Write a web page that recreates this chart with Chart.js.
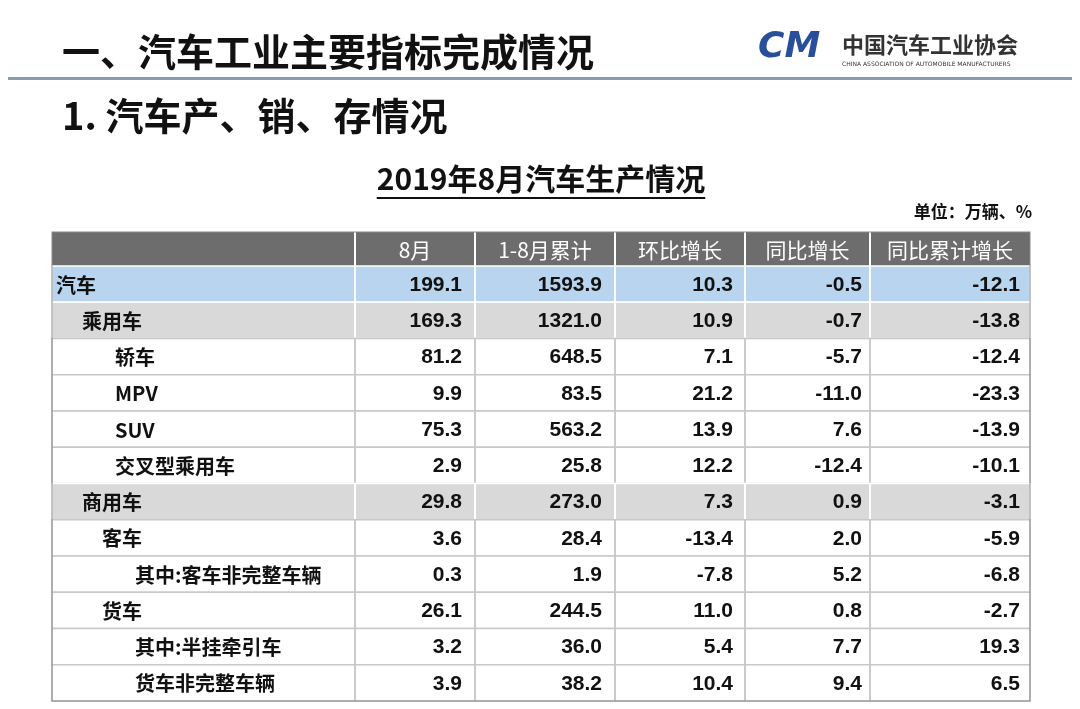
<!DOCTYPE html>
<html><head><meta charset="utf-8">
<script src="https://cdn.jsdelivr.net/npm/chart.js@4"></script>
<style>html,body{margin:0;padding:0;background:#fff;}canvas{display:block;}</style>
</head><body>
<canvas id="c" width="1080" height="709"></canvas>
<script>
const headers = ["", "8月", "1-8月累计", "环比增长", "同比增长", "同比累计增长"];
const categories = ["汽车","乘用车","轿车","MPV","SUV","交叉型乘用车","商用车","客车","其中:客车非完整车辆","货车","其中:半挂牵引车","货车非完整车辆"];
const indents = [0,1,2,2,2,2,1,2,3,2,3,3];
const monthVals = [199.1,169.3,81.2,9.9,75.3,2.9,29.8,3.6,0.3,26.1,3.2,3.9];
const cumVals = [1593.9,1321.0,648.5,83.5,563.2,25.8,273.0,28.4,1.9,244.5,36.0,38.2];
const momVals = [10.3,10.9,7.1,21.2,13.9,12.2,7.3,-13.4,-7.8,11.0,5.4,10.4];
const yoyVals = [-0.5,-0.7,-5.7,-11.0,7.6,-12.4,0.9,2.0,5.2,0.8,7.7,9.4];
const yoyCumVals = [-12.1,-13.8,-12.4,-23.3,-13.9,-10.1,-3.1,-5.9,-6.8,-2.7,19.3,6.5];

const colEdges = [52,355,475,615,745,870,1030];
const CJK = '"Noto Sans CJK SC","Noto Sans",sans-serif';

const tablePlugin = {
  id:'table',
  afterDraw(chart){
    const ctx = chart.ctx, y = chart.scales.y;
    ctx.save();
    ctx.fillStyle='#111'; ctx.textBaseline='middle'; ctx.textAlign='left';
    ctx.font='bold 38px '+CJK;
    ctx.fillText('一、汽车工业主要指标完成情况',62,52);
    ctx.fillText('1. 汽车产、销、存情况',62,116);
    ctx.fillStyle='#8a9ab0'; ctx.fillRect(8,77,1064,3);
    ctx.fillStyle='#2a4f9a'; ctx.font='italic bold 36px "DejaVu Sans",sans-serif';
    ctx.fillText('CM',758,48);
    ctx.fillStyle='#333'; ctx.font='bold 22px '+CJK;
    ctx.fillText('中国汽车工业协会',842,45);
    ctx.font='6px "DejaVu Sans",sans-serif';
    ctx.fillText('CHINA ASSOCIATION OF AUTOMOBILE MANUFACTURERS',842,64);
    ctx.fillStyle='#111'; ctx.textAlign='center'; ctx.font='bold 30px '+CJK;
    ctx.fillText('2019年8月汽车生产情况',541,179);
    const w = ctx.measureText('2019年8月汽车生产情况').width;
    ctx.fillRect(541-w/2,197,w,2);
    ctx.textAlign='right'; ctx.font='bold 17px '+CJK;
    ctx.fillText('单位：万辆、%',1032,212);
    const band = (y.getPixelForValue(1)-y.getPixelForValue(0));
    const hTop = 232, hBot = y.getPixelForValue(0)-band/2;
    ctx.fillStyle='#6d6d6d'; ctx.fillRect(colEdges[0],hTop,colEdges[6]-colEdges[0],hBot-hTop);
    ctx.fillStyle='#fff'; ctx.textAlign='center'; ctx.font='21px '+CJK;
    for(let c=1;c<6;c++){
      ctx.fillText(headers[c],(colEdges[c]+colEdges[c+1])/2,(hTop+hBot)/2+1);
      ctx.fillRect(colEdges[c]-1,hTop,2,hBot-hTop);
    }
    const cols=[monthVals,cumVals,momVals,yoyVals,yoyCumVals];
    const rights=[462,602,733,862,1020];
    categories.forEach((cat,i)=>{
      const cy=y.getPixelForValue(i), top=cy-band/2;
      let bg='#fff';
      if(i===0) bg='#b9d4ee'; else if(i===1||i===6) bg='#d9d9d9';
      ctx.fillStyle=bg; ctx.fillRect(colEdges[0],top,colEdges[6]-colEdges[0],band);
      ctx.strokeStyle=(bg==='#fff')?'#c8c8c8':'#fff'; ctx.lineWidth=1.5;
      for(let c=0;c<6;c++) ctx.strokeRect(colEdges[c],top,colEdges[c+1]-colEdges[c],band);
      ctx.fillStyle='#111'; ctx.textAlign='left';
      ctx.font='bold 20px '+CJK;
      const ind=[56,82,115,135][indents[i]];
      const x0 = (cat==='货车'||cat==='客车')?102:ind;
      ctx.fillText(cat,x0,cy+1);
      ctx.textAlign='right'; ctx.font='bold 21px "Liberation Sans",Arial,sans-serif';
      cols.forEach((arr,k)=>ctx.fillText(arr[i].toFixed(1),rights[k],cy+1));
    });
    ctx.strokeStyle='#888'; ctx.lineWidth=1;
    ctx.strokeRect(colEdges[0],hTop,colEdges[6]-colEdges[0],y.getPixelForValue(11)+band/2-hTop);
    ctx.restore();
  }
};

new Chart(document.getElementById('c'),{
  type:'bar',
  data:{labels:categories,datasets:[{data:monthVals,backgroundColor:'rgba(0,0,0,0)'}]},
  options:{
    indexAxis:'y',responsive:false,animation:false,
    layout:{padding:{top:266,bottom:8,left:52,right:50}},
    plugins:{legend:{display:false},tooltip:{enabled:false}},
    scales:{y:{display:false,offset:true},x:{display:false}}
  },
  plugins:[tablePlugin]
});
</script>
</body></html>
